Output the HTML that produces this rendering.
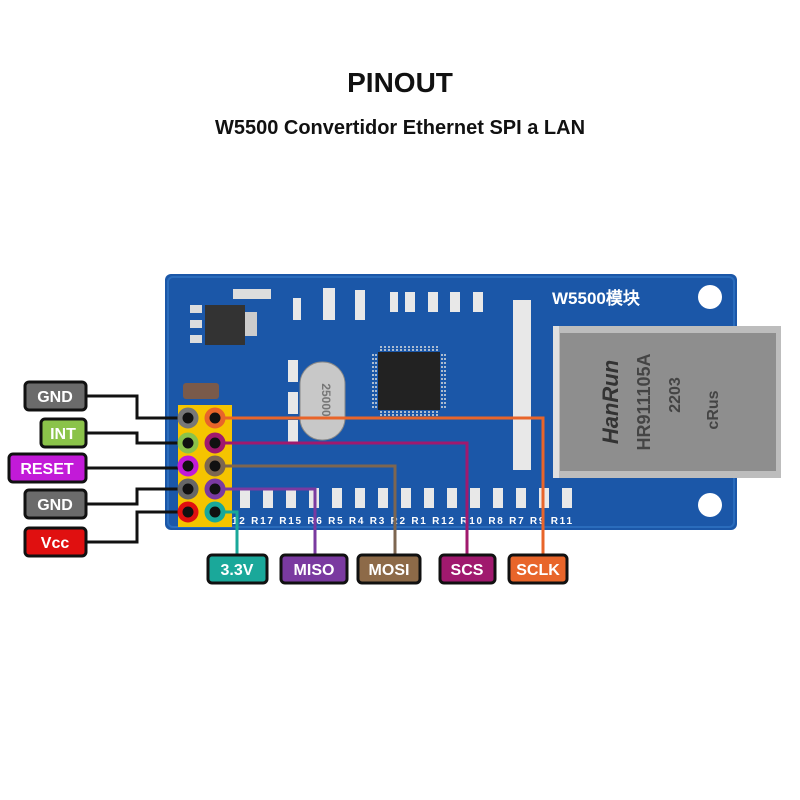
<!DOCTYPE html>
<html><head><meta charset="utf-8"><style>
html,body{margin:0;padding:0;background:#fff;width:800px;height:800px;overflow:hidden}
svg{display:block}
text{font-family:"Liberation Sans",sans-serif;font-weight:bold}
</style></head><body>
<svg width="800" height="800" viewBox="0 0 800 800">
<text x="400" y="92" text-anchor="middle" font-size="28" fill="#111">PINOUT</text>
<text x="400" y="134" text-anchor="middle" font-size="20" fill="#111">W5500 Convertidor Ethernet SPI a LAN</text>
<!-- board -->
<rect x="165" y="274" width="572" height="256" rx="6" fill="#1b57a8"/>
<rect x="168" y="277" width="566" height="250" rx="5" fill="none" stroke="#2a6cbc" stroke-width="2"/>
<circle cx="710" cy="297" r="12" fill="#fff"/>
<circle cx="710" cy="505" r="12" fill="#fff"/>
<text x="552" y="304" font-size="17" fill="#fff" font-family="Liberation Serif">W5500模块</text>
<!-- regulator -->
<rect x="205" y="305" width="40" height="40" fill="#333"/>
<rect x="245" y="312" width="12" height="24" fill="#ccc"/>
<rect x="190" y="305" width="12" height="8" fill="#ddd"/><rect x="190" y="320" width="12" height="8" fill="#ddd"/><rect x="190" y="335" width="12" height="8" fill="#ddd"/>
<rect x="233" y="289" width="38" height="10" fill="#ddd"/>
<rect x="183" y="383" width="36" height="16" rx="3" fill="#7a5a4a"/>
<!-- crystal -->
<rect x="300" y="362" width="45" height="78" rx="22" fill="#c8c8c8" stroke="#888"/>
<text x="322" y="400" font-size="12" fill="#777" transform="rotate(90 322 400)" text-anchor="middle">25000</text>
<!-- chip -->
<rect x="378" y="352" width="62" height="58" fill="#222"/>
<g stroke="#ddd" stroke-width="1.5">
<path d="M380 350h58M380 347h58M380 412h58M380 415h58" stroke-dasharray="2 2"/>
<path d="M376 354v54M373 354v54M442 354v54M445 354v54" stroke-dasharray="2 2"/>
</g>
<!-- SMD parts -->
<g fill="#e8e8e8">
<rect x="405" y="292" width="10" height="20"/><rect x="428" y="292" width="10" height="20"/><rect x="450" y="292" width="10" height="20"/><rect x="473" y="292" width="10" height="20"/><rect x="390" y="292" width="8" height="20"/>
<rect x="323" y="288" width="12" height="32"/><rect x="355" y="290" width="10" height="30"/><rect x="293" y="298" width="8" height="22"/>
<rect x="513" y="300" width="18" height="170"/>
<rect x="288" y="360" width="10" height="22"/><rect x="288" y="392" width="10" height="22"/><rect x="288" y="420" width="10" height="22"/>
</g>
<g fill="#e8e8e8">
<rect x="240" y="488" width="10" height="20"/><rect x="263" y="488" width="10" height="20"/><rect x="286" y="488" width="10" height="20"/><rect x="309" y="488" width="10" height="20"/><rect x="332" y="488" width="10" height="20"/><rect x="355" y="488" width="10" height="20"/><rect x="378" y="488" width="10" height="20"/><rect x="401" y="488" width="10" height="20"/><rect x="424" y="488" width="10" height="20"/><rect x="447" y="488" width="10" height="20"/><rect x="470" y="488" width="10" height="20"/><rect x="493" y="488" width="10" height="20"/><rect x="516" y="488" width="10" height="20"/><rect x="539" y="488" width="10" height="20"/><rect x="562" y="488" width="10" height="20"/>
</g>
<text x="232" y="524" font-size="10" fill="#fff" font-weight="normal" textLength="340">12 R17 R15 R6 R5 R4 R3 R2 R1 R12 R10 R8 R7 R9 R11</text>
<!-- RJ45 -->
<rect x="553" y="326" width="228" height="152" fill="#bdbdbd"/>
<rect x="560" y="333" width="216" height="138" fill="#8e8e8e"/>
<rect x="553" y="326" width="6" height="152" fill="#e0e0e0"/>
<text x="618" y="402" font-size="22" fill="#333" transform="rotate(-90 618 402)" text-anchor="middle" font-style="italic">HanRun</text>
<text x="650" y="402" font-size="18" fill="#444" transform="rotate(-90 650 402)" text-anchor="middle" font-weight="normal">HR911105A</text>
<text x="680" y="395" font-size="16" fill="#444" transform="rotate(-90 680 395)" text-anchor="middle" font-weight="normal">2203</text>
<text x="718" y="410" font-size="16" fill="#444" transform="rotate(-90 718 410)" text-anchor="middle">cRus</text>
<!-- header -->
<rect x="178" y="405" width="54" height="122" fill="#f5c400"/>
<!-- wires -->
<g fill="none" stroke-width="3">
<path d="M86 396H137V418H188" stroke="#111"/>
<path d="M86 433H137V443H188" stroke="#111"/>
<path d="M86 468H188" stroke="#111"/>
<path d="M86 504H137V489H188" stroke="#111"/>
<path d="M86 542H137V512H188" stroke="#111"/>
<path d="M215 418H543V556" stroke="#e8652a"/>
<path d="M215 443H467V556" stroke="#a0196e"/>
<path d="M215 466H395V556" stroke="#7d6650"/>
<path d="M215 489H315V556" stroke="#7a3aa0"/>
<path d="M215 512H237V556" stroke="#1aa89a"/>
</g>
<!-- pins -->
<g stroke-width="5">
<circle cx="188" cy="418" r="8" fill="#111" stroke="#777"/>
<circle cx="215" cy="418" r="8" fill="#111" stroke="#e8652a"/>
<circle cx="188" cy="443" r="8" fill="#111" stroke="#8bc34a"/>
<circle cx="215" cy="443" r="8" fill="#111" stroke="#a0196e"/>
<circle cx="188" cy="466" r="8" fill="#111" stroke="#c21ad8"/>
<circle cx="215" cy="466" r="8" fill="#111" stroke="#7d6650"/>
<circle cx="188" cy="489" r="8" fill="#111" stroke="#666"/>
<circle cx="215" cy="489" r="8" fill="#111" stroke="#7a3aa0"/>
<circle cx="188" cy="512" r="8" fill="#111" stroke="#e01010"/>
<circle cx="215" cy="512" r="8" fill="#111" stroke="#1aa89a"/>
</g>
<!-- labels -->
<g stroke="#111" stroke-width="3">
<rect x="25" y="382" width="61" height="28" rx="4" fill="#6b6b6b"/>
<rect x="41" y="419" width="45" height="28" rx="4" fill="#8bc34a"/>
<rect x="9" y="454" width="77" height="28" rx="4" fill="#c21ad8"/>
<rect x="25" y="490" width="61" height="28" rx="4" fill="#6b6b6b"/>
<rect x="25" y="528" width="61" height="28" rx="4" fill="#e01010"/>
<rect x="208" y="555" width="59" height="28" rx="4" fill="#1aa89a"/>
<rect x="281" y="555" width="66" height="28" rx="4" fill="#7a3aa0"/>
<rect x="358" y="555" width="62" height="28" rx="4" fill="#8d6a48"/>
<rect x="440" y="555" width="55" height="28" rx="4" fill="#a0196e"/>
<rect x="509" y="555" width="58" height="28" rx="4" fill="#e8652a"/>
</g>
<g fill="#fff" font-size="16" text-anchor="middle">
<text x="55" y="402">GND</text>
<text x="63" y="439">INT</text>
<text x="47" y="474">RESET</text>
<text x="55" y="510">GND</text>
<text x="55" y="548">Vcc</text>
<text x="237" y="575">3.3V</text>
<text x="314" y="575">MISO</text>
<text x="389" y="575">MOSI</text>
<text x="467" y="575">SCS</text>
<text x="538" y="575">SCLK</text>
</g>
</svg>
</body></html>
